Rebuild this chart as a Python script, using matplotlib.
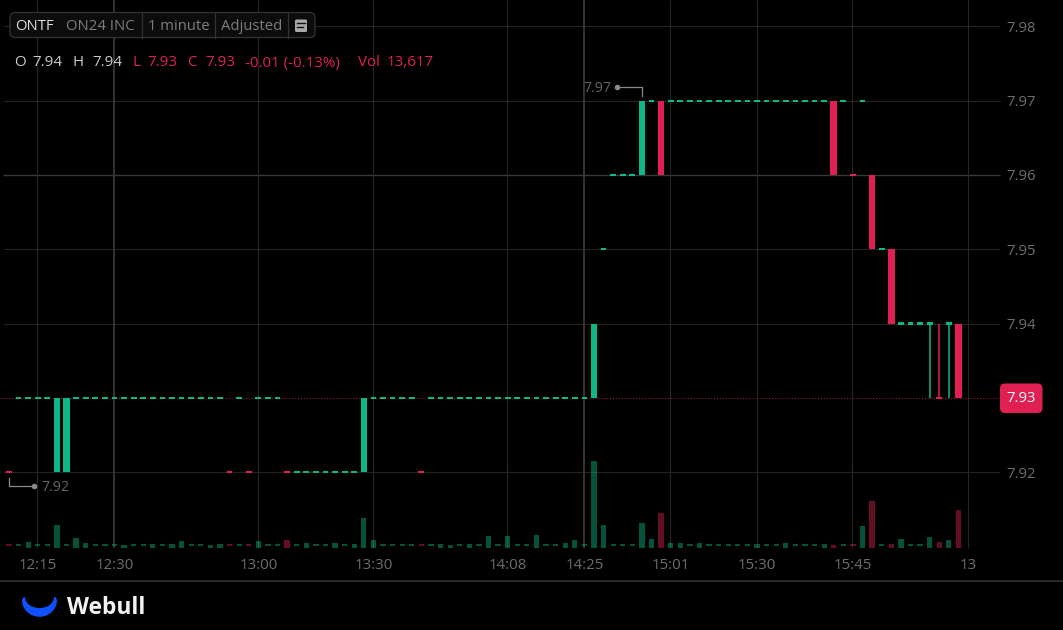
#!/usr/bin/env python3
import numpy as np
import matplotlib
matplotlib.use('Agg')
import matplotlib.pyplot as plt
from matplotlib.patches import FancyBboxPatch, Polygon

plt.rcParams['font.family'] = ['Open Sans', 'DejaVu Sans']

opens = [7.92, 7.93, 7.93, 7.93, 7.93, 7.92, 7.92, 7.93, 7.93, 7.93,
         7.93, 7.93, 7.93, 7.93, 7.93, 7.93, 7.93, 7.93, 7.93, 7.93,
         7.93, 7.93, 7.93, 7.92, 7.93, 7.92, 7.93, 7.93, 7.93, 7.92,
         7.92, 7.92, 7.92, 7.92, 7.92, 7.92, 7.92, 7.92, 7.93, 7.93,
         7.93, 7.93, 7.93, 7.92, 7.93, 7.93, 7.93, 7.93, 7.93, 7.93,
         7.93, 7.93, 7.93, 7.93, 7.93, 7.93, 7.93, 7.93, 7.93, 7.93,
         7.93, 7.93, 7.95, 7.96, 7.96, 7.96, 7.96, 7.97, 7.97, 7.97,
         7.97, 7.97, 7.97, 7.97, 7.97, 7.97, 7.97, 7.97, 7.97, 7.97,
         7.97, 7.97, 7.97, 7.97, 7.97, 7.97, 7.97, 7.97, 7.96, 7.97,
         7.96, 7.95, 7.95, 7.94, 7.94, 7.94, 7.94, 7.93, 7.94, 7.94]
closes = [7.92, 7.93, 7.93, 7.93, 7.93, 7.93, 7.93, 7.93, 7.93, 7.93,
          7.93, 7.93, 7.93, 7.93, 7.93, 7.93, 7.93, 7.93, 7.93, 7.93,
          7.93, 7.93, 7.93, 7.92, 7.93, 7.92, 7.93, 7.93, 7.93, 7.92,
          7.92, 7.92, 7.92, 7.92, 7.92, 7.92, 7.92, 7.93, 7.93, 7.93,
          7.93, 7.93, 7.93, 7.92, 7.93, 7.93, 7.93, 7.93, 7.93, 7.93,
          7.93, 7.93, 7.93, 7.93, 7.93, 7.93, 7.93, 7.93, 7.93, 7.93,
          7.93, 7.94, 7.95, 7.96, 7.96, 7.96, 7.97, 7.97, 7.96, 7.97,
          7.97, 7.97, 7.97, 7.97, 7.97, 7.97, 7.97, 7.97, 7.97, 7.97,
          7.97, 7.97, 7.97, 7.97, 7.97, 7.97, 7.96, 7.97, 7.96, 7.97,
          7.95, 7.95, 7.94, 7.94, 7.94, 7.94, 7.94, 7.93, 7.94, 7.93]
volumes = [300, 300, 1900, 300, 300, 8200, 300, 3600, 1700, 300,
           300, 300, 1000, 300, 300, 1300, 300, 1300, 2200, 300,
           300, 1000, 1200, 300, 300, 300, 2400, 300, 300, 2800,
           300, 1700, 300, 300, 1800, 300, 1100, 10800, 2800, 300,
           300, 300, 300, 300, 300, 1200, 1000, 300, 1300, 300,
           4000, 300, 4100, 300, 300, 4400, 300, 300, 1800, 2800,
           300, 31400, 8300, 300, 300, 300, 8800, 3000, 12400, 1600,
           1600, 300, 1600, 300, 300, 300, 300, 300, 1200, 300,
           300, 1600, 300, 300, 300, 1400, 1000, 300, 300, 7900,
           16700, 300, 1400, 3000, 300, 300, 3700, 1900, 2600, 13617]
# flat bars that the chart still paints red
flat_down = [0, 23, 25, 29, 43, 88, 97]
# bars with a wick down to the low
wick_idx = [96, 97, 98]
wick_low = [7.93, 7.93, 7.93]
wick_high = [7.94, 7.94, 7.94]

y_ticks = [7.92, 7.93, 7.94, 7.95, 7.96, 7.97, 7.98]
y_tick_labels = ['7.92', '', '7.94', '7.95', '7.96', '7.97', '7.98']
x_ticks = [3, 11, 26, 38, 52, 60, 69, 78, 88, 100]
x_tick_labels = ['12:15', '12:30', '13:00', '13:30', '14:08', '14:25',
                 '15:01', '15:30', '15:45', '13']
strong_x = [11, 60]
strong_y = [7.96]
last_price = 7.93

UP = '#0cb887'
DOWN = '#e02052'
W, H = 1063, 630
STEP = 9.59        # px per bar
X0 = 9.0           # px of bar 0
PX_PER_PRICE = 7430.0
Y_REF = 100.7      # px of 7.97
VOL_ZERO = 547.5   # px of zero volume
VOL_PER_PX = 361.0


def px_x(i):
    return X0 + STEP * i


def px_y(p):
    return Y_REF + (7.97 - p) * PX_PER_PRICE


def idx(px):
    return (px - X0) / STEP


opens = np.array(opens)
closes = np.array(closes)
volumes = np.array(volumes, dtype=float)
xs = np.arange(len(opens))
down = closes < opens
down[flat_down] = True
colors = np.where(down, DOWN, UP)

fig = plt.figure(figsize=(W / 100, H / 100), dpi=100, facecolor='black')
ax = fig.add_axes([0, 0, 1, 1], facecolor='black')
ax.set_xlim(idx(0), idx(W))
ax.set_ylim(7.97 - (H - Y_REF) / PX_PER_PRICE, 7.97 + Y_REF / PX_PER_PRICE)
for s in ax.spines.values():
    s.set_visible(False)

# grid
for p in y_ticks:
    c = '#383838' if p in strong_y else '#232323'
    if p != last_price:
        ax.hlines(p, idx(3), idx(1000), color=c, lw=1.0 if p in strong_y else 0.8, zorder=1)
y_bottom = 7.97 - (VOL_ZERO - Y_REF) / PX_PER_PRICE
y_top = 7.97 + Y_REF / PX_PER_PRICE
for t in x_ticks:
    c = '#383838' if t in strong_x else '#262626'
    ax.vlines(t - 0.05, y_bottom, y_top, color=c, lw=1.3 if t in strong_x else 0.8, zorder=1)

ax.hlines(last_price, idx(0), idx(1000), color='#8a1a38', lw=0.8,
          linestyles=(0, (1, 1.6)), zorder=2)

# candles
flat = opens == closes
ax.bar(xs[~flat], np.abs(closes - opens)[~flat], bottom=np.minimum(opens, closes)[~flat],
       width=0.68, color=colors[~flat], linewidth=0, zorder=3)
ax.bar(xs[flat], 0.0003, bottom=closes[flat] - 0.00015, width=0.6,
       color=colors[flat], linewidth=0, zorder=3)
ax.vlines(wick_idx, wick_low, wick_high, color=colors[wick_idx], lw=1.1, zorder=3)

# volume
vax = ax.twinx()
vax.patch.set_visible(False)
vax.set_ylim((VOL_ZERO - H) * VOL_PER_PX, VOL_ZERO * VOL_PER_PX)
vax.set_yticks([])
for s in vax.spines.values():
    s.set_visible(False)
tiny = volumes < 600
vax.bar(xs[~tiny], volumes[~tiny], width=0.55, color=colors[~tiny], alpha=0.45, linewidth=0)
vax.bar(xs[tiny], 2.2 * VOL_PER_PX, bottom=1.5 * VOL_PER_PX, width=0.55,
        color=colors[tiny], alpha=0.45, linewidth=0)

# twinx puts the price labels back on the left, so set them after it
ax.set_xticks(x_ticks)
ax.set_xticklabels(x_tick_labels)
ax.set_yticks([p for p, s in zip(y_ticks, y_tick_labels) if s])
ax.set_yticklabels([s for s in y_tick_labels if s])
ax.tick_params(axis='x', length=0, pad=-51.5, labelsize=10.8, labelcolor='#6e6e6e', bottom=True)
ax.yaxis.tick_right()
ax.tick_params(axis='y', length=0, pad=-41, labelsize=10.7, labelcolor='#6e6e6e')

# pixel overlay for the chrome
ov = fig.add_axes([0, 0, 1, 1])
ov.set_xlim(0, W)
ov.set_ylim(H, 0)
ov.axis('off')
ov.patch.set_visible(False)

ov.add_patch(FancyBboxPatch((10, 12.5), 305, 25, boxstyle='round,pad=0,rounding_size=5',
                            fc='#0c0c0c', ec='#333333', lw=0.9))
for x in [141.5, 215, 287.5]:
    ov.plot([x, x], [12.5, 37.5], color='#333333', lw=0.9)
ov.text(15, 27, 'ONTF', color='#dddddd', fontsize=10.7, va='center')
ov.text(66, 27, 'ON24 INC', color='#7d7d7d', fontsize=10.7, va='center')
ov.text(148, 27, '1 minute', color='#7d7d7d', fontsize=10.7, va='center')
ov.text(221, 27, 'Adjusted', color='#7d7d7d', fontsize=10.7, va='center')
ov.add_patch(FancyBboxPatch((295, 19.5), 12, 12.5, boxstyle='round,pad=0,rounding_size=1.5',
                            fc='#aaaaaa', ec='none'))
ov.plot([297, 305], [23, 23], color='#111111', lw=1.0)
ov.plot([297, 302.5], [27, 27], color='#111111', lw=1.0)

for x, s, c in [(14.5, 'O', '#cccccc'), (32.5, '7.94', '#cccccc'), (73, 'H', '#cccccc'),
                (92, '7.94', '#cccccc'), (132, 'L', DOWN), (147, '7.93', DOWN),
                (187, 'C', DOWN), (205, '7.93', DOWN), (245, '-0.01 (-0.13%)', DOWN),
                (358, 'Vol', DOWN), (387, '13,617', DOWN)]:
    ov.text(x, 63, s, color=c, fontsize=10.9, va='center')

# high and low markers
hi_x, hi_y = px_x(66), px_y(7.97)
ov.plot([hi_x, hi_x, hi_x - 25], [hi_y - 5, hi_y - 13.5, hi_y - 13.5], color='#8a8a8a', lw=0.9)
ov.plot([hi_x - 25], [hi_y - 13.5], 'o', color='#8a8a8a', ms=3)
ov.text(hi_x - 59, hi_y - 12.5, '7.97', color='#666666', fontsize=10.2, va='center')
lo_x, lo_y = px_x(0), px_y(7.92)
ov.plot([lo_x, lo_x, lo_x + 25], [lo_y + 6, lo_y + 14, lo_y + 14], color='#8a8a8a', lw=0.9)
ov.plot([lo_x + 25], [lo_y + 14], 'o', color='#8a8a8a', ms=3)
ov.text(lo_x + 32, lo_y + 15, '7.92', color='#666666', fontsize=10.2, va='center')

# last price badge
ov.add_patch(FancyBboxPatch((1000, 383.5), 42.5, 29.5, boxstyle='round,pad=0,rounding_size=5',
                            fc=DOWN, ec='none'))
ov.text(1021.5, 399, '7.93', color='white', fontsize=10.7, ha='center', va='center')

# footer
ov.plot([0, W], [581, 581], color='#2a2a2a', lw=1.4)
t = np.linspace(0, np.pi, 40)
inner = np.column_stack([39.5 - 14.5 * np.cos(t), 597 + 11 * np.sin(t)])
outer = np.column_stack([39.5 + 17.5 * np.cos(t), 600 + 16.8 * np.sin(t)])
ov.add_patch(Polygon(np.vstack([inner, [[55.5, 597]], outer, [[23.5, 597]]]), closed=True,
                     fc='#0f50ff', ec='none'))
ov.text(67, 608, 'Webull', color='#f2f2f2', fontsize=16.4, fontweight='bold', va='center')

fig.savefig('out.png', dpi=100, facecolor='black')
